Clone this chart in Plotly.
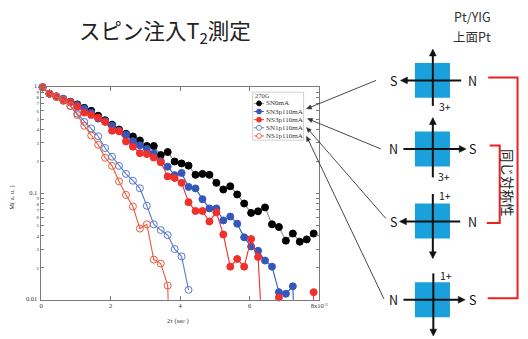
import math
import plotly.graph_objects as go

# --- data -----------------------------------------------------------------
# echo time 2tau (x10^-3 s)
tau = [0.04, 0.24, 0.44, 0.64, 0.84, 1.04, 1.24, 1.44, 1.64, 1.84,
       2.04, 2.24, 2.44, 2.64, 2.84, 3.04, 3.24, 3.44, 3.64, 3.84,
       4.04, 4.24, 4.44, 4.64, 4.84, 5.04, 5.24, 5.44, 5.64, 5.84,
       6.04, 6.24, 6.44, 6.64, 6.84, 7.04, 7.24, 7.44, 7.64, 7.84]

# normalised magnetisation M (a.u.); 1e-4 marks points that fell below the scale
sn0mA = [1.0, 0.87, 0.82, 0.76, 0.73, 0.69, 0.64, 0.60, 0.54, 0.49,
         0.445, 0.40, 0.365, 0.344, 0.316, 0.28, 0.28, 0.23, 0.246, 0.20,
         0.192, 0.183, 0.150, 0.153, 0.150, 0.126, 0.109, 0.117, 0.098, 0.0805,
         0.0657, 0.068, 0.074, 0.0513, 0.0484, 0.036, 0.042, 0.0352, 0.037, 0.042]

sn3p110mA = [1.0, 0.87, 0.82, 0.78, 0.73, 0.68, 0.627, 0.576, 0.507, 0.479,
             0.434, 0.39, 0.358, 0.311, 0.284, 0.263, 0.238, 0.202, 0.179, 0.149,
             0.156, 0.1155, 0.1117, 0.0885, 0.0724, 0.0724, 0.0558, 0.0607, 0.052, 0.0387,
             0.0317, 0.0289, 0.0234, 0.0205, 0.0118, 0.0114, 0.0134, 1e-4]

ns3p110mA = [1.0, 0.87, 0.82, 0.745, 0.725, 0.66, 0.578, 0.548, 0.518, 0.472,
             0.39, 0.385, 0.309, 0.276, 0.24, 0.235, 0.218, 0.197, 0.145, 0.14,
             0.126, 0.083, 0.0685, 0.0685, 0.0546, 0.0665, 0.0412, 0.0205, 0.0242, 0.0205,
             0.0373, 0.0253, 1e-4, 1e-4, 0.0105, 1e-4, 1e-4, 1e-4, 1e-4, 0.0118]

sn1p110mA = [1.0, 0.87, 0.81, 0.76, 0.665, 0.565, 0.472, 0.41, 0.346, 0.268,
             0.222, 0.182, 0.153, 0.132, 0.112, 0.0767, 0.0513, 0.0453, 0.0406, 0.030,
             0.0256, 0.0124]

ns1p110mA = [1.0, 0.87, 0.81, 0.76, 0.67, 0.548, 0.434, 0.351, 0.288, 0.217,
             0.182, 0.130, 0.097, 0.0755, 0.0468, 0.0513, 0.0239, 0.0219, 0.0136, 1e-4]

series_names = ["SN0mA", "SN3p110mA", "NS3p110mA", "SN1p110mA", "NS1p110mA"]
legend_title = "270G"
x_ticks = [0, 2, 4, 6, 8]
x_ticktext = ["0", "2", "4", "6", "8x10<sup>-3</sup>"]

# --- styling ----------------------------------------------------------------
W, H = 528, 339
SERIF = "Liberation Serif, Times New Roman, serif"
SANS = "Noto Sans CJK JP, Liberation Sans, Arial, sans-serif"
AX = "#7a7a7a"

styles = [
    dict(mc="#000000", lc="#8c8c8c", sym="circle"),
    dict(mc="#3557bd", lc="#3557bd", sym="circle"),
    dict(mc="#f0302a", lc="#f0302a", sym="circle"),
    dict(mc="#5a78cc", lc="#5a78cc", sym="circle-open"),
    dict(mc="#ea5a3c", lc="#ea5a3c", sym="circle-open"),
]
values = [sn0mA, sn3p110mA, ns3p110mA, sn1p110mA, ns1p110mA]


def PX(x):
    return x / W


def PY(y):
    return 1 - y / H


def label(x, y, text, size, family=SANS, color="#111", xanchor="center", **kw):
    return dict(x=PX(x), y=PY(y), xref="paper", yref="paper", text=text,
                showarrow=False, xanchor=xanchor, yanchor="middle",
                font=dict(family=family, size=size, color=color), **kw)


def path(pts, close=False):
    s = "M " + " L ".join(f"{PX(x):.5f},{PY(y):.5f}" for x, y in pts)
    return s + (" Z" if close else "")


def arrow_shapes(tail, head, width, head_len, head_half, color):
    """Straight arrow drawn as a line plus a filled triangular head."""
    dx, dy = head[0] - tail[0], head[1] - tail[1]
    n = math.hypot(dx, dy)
    ux, uy = dx / n, dy / n
    px_, py_ = -uy, ux
    bx, by = head[0] - ux * head_len, head[1] - uy * head_len
    stem_end = (head[0] - ux * head_len * 0.7, head[1] - uy * head_len * 0.7)
    return [
        dict(type="path", xref="paper", yref="paper", path=path([tail, stem_end]),
             line=dict(color=color, width=width)),
        dict(type="path", xref="paper", yref="paper",
             path=path([head, (bx + px_ * head_half, by + py_ * head_half),
                        (bx - px_ * head_half, by - py_ * head_half)], close=True),
             line=dict(color=color, width=0.5), fillcolor=color),
    ]


fig = go.Figure()
for name, vals, st in zip(series_names, values, styles):
    fig.add_trace(go.Scatter(
        x=tau[:len(vals)], y=vals, name=name, mode="lines+markers",
        line=dict(color=st["lc"], width=1.1),
        marker=dict(symbol=st["sym"], size=7, color=st["mc"],
                    line=dict(color=st["mc"], width=1)),
        cliponaxis=False, showlegend=False,
    ))

fig.update_layout(
    width=W, height=H, margin=dict(l=0, r=0, t=0, b=0),
    paper_bgcolor="white", plot_bgcolor="white", showlegend=False,
    xaxis=dict(domain=[PX(40), PX(324)], range=[0, 8],
               tickvals=x_ticks, ticktext=x_ticktext,
               ticks="inside", ticklen=4, tickcolor=AX, tickwidth=0.8,
               showline=True, linecolor=AX, linewidth=0.8, mirror="ticks",
               showgrid=False, zeroline=False,
               tickfont=dict(family=SERIF, size=6.5, color="#333")),
    yaxis=dict(domain=[PY(301), PY(84)], type="log", range=[-2, 0],
               dtick="D1", ticks="inside", ticklen=3, tickcolor=AX, tickwidth=0.8,
               showline=True, linecolor=AX, linewidth=0.8, mirror="ticks",
               showgrid=False, zeroline=False,
               tickfont=dict(family=SERIF, size=6.5, color="#333")),
)

shapes = []
ann = []

# axis titles
ann.append(label(180, 323, "2τ (sec )", 6.5, SERIF, "#333"))
ann.append(label(10, 197, "M( a. u. )", 6.5, SERIF, "#333", textangle=-90))

# compact legend box
shapes.append(dict(type="rect", xref="paper", yref="paper",
                   x0=PX(256), x1=PX(308), y0=PY(89), y1=PY(138),
                   line=dict(color="#bbbbbb", width=0.7), fillcolor="white"))
ann.append(label(256.5, 92.5, legend_title, 6.5, SERIF, "#444", xanchor="left"))
row_y = [100.5, 108.8, 117.1, 125.4, 133.7]
for name, st, ry in zip(series_names, styles, row_y):
    shapes.append(dict(type="line", xref="paper", yref="paper",
                       x0=PX(257.5), x1=PX(267.5), y0=PY(ry), y1=PY(ry),
                       line=dict(color=st["lc"], width=1)))
    filled = st["sym"] == "circle"
    shapes.append(dict(type="circle", xref="paper", yref="paper",
                       x0=PX(260), x1=PX(265), y0=PY(ry - 2.5), y1=PY(ry + 2.5),
                       line=dict(color=st["mc"], width=0.9),
                       fillcolor=st["mc"] if filled else "white"))
    ann.append(label(268, ry, name, 7, SERIF, "#333", xanchor="left"))

# pointer lines from legend entries to the field configurations
for head, tail in [((311, 106), (382, 77)), ((312, 116), (387, 147)),
                   ((311, 125), (392, 218)), ((311, 134), (390, 300))]:
    shapes += arrow_shapes(tail, head, 0.9, 5, 2.2, "#333333")

# title
ann.append(label(166, 27, "スピン注入T<sub>2</sub>測定", 21.5, SANS, "#222"))
ann.append(label(480, 12, "Pt/YIG", 12.5, SANS, "#333"))
ann.append(label(480, 32, "上面Pt", 12.5, SANS, "#333"))

# sample squares with field / current arrows
SQ = "#1aa0db"
diagrams = [
    dict(cy=77, v=((440, 103), (440, 45)), h=((469, 77), (407, 77)),
         left="S", right="N", tag="3+", tag_xy=(452, 104)),
    dict(cy=147, v=((440, 176), (440, 115)), h=((410, 147), (474, 147)),
         left="N", right="S", tag="3+", tag_xy=(451, 175)),
    dict(cy=220.5, v=((440, 193), (440, 259)), h=((468, 221), (406, 221)),
         left="S", right="N", tag="1+", tag_xy=(452, 195)),
    dict(cy=301, v=((440.5, 274), (440.5, 338)), h=((410, 301), (473, 301)),
         left="N", right="S", tag="1+", tag_xy=(453, 276)),
]
for d in diagrams:
    cy = d["cy"]
    shapes.append(dict(type="rect", xref="paper", yref="paper", layer="below",
                       x0=PX(421.7), x1=PX(457.5), y0=PY(cy - 17.8), y1=PY(cy + 17.8),
                       line=dict(width=0), fillcolor=SQ))
    shapes += arrow_shapes(d["v"][0], d["v"][1], 2, 7, 3.5, "#111")
    shapes += arrow_shapes(d["h"][0], d["h"][1], 2, 7, 3.5, "#111")
    hy = d["h"][0][1]
    ann.append(label(400, hy, d["left"], 12.5))
    ann.append(label(480, hy, d["right"], 12.5))
    ann.append(label(d["tag_xy"][0], d["tag_xy"][1], d["tag"], 10.5))

# red brackets grouping configurations of equal symmetry
RED = "#e8231f"
shapes.append(dict(type="path", xref="paper", yref="paper",
                   path=path([(496.5, 74), (526.5, 74), (526.5, 299.5), (496, 299.5)]),
                   line=dict(color=RED, width=2)))
shapes.append(dict(type="path", xref="paper", yref="paper",
                   path=path([(498, 143.5), (508.3, 143.5), (508.3, 222.7), (495, 222.7)]),
                   line=dict(color=RED, width=2)))
ann.append(label(517, 182, "同じ対称性", 13.5, SANS, "#222", textangle=90))

fig.update_layout(shapes=shapes, annotations=ann)
fig.write_html("out.html")
